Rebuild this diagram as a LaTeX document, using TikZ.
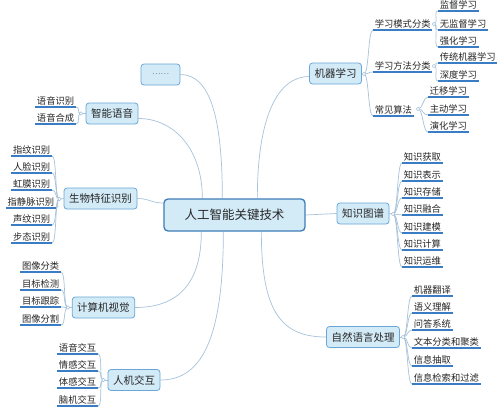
\documentclass[tikz,border=0pt]{standalone}
\usepackage{fontspec}
\setmainfont{Noto Sans CJK SC}
\usetikzlibrary{calc}
\pgfdeclarelayer{bg}
\pgfsetlayers{bg,main}
\definecolor{boxf}{HTML}{D3EBF7}
\definecolor{boxd}{HTML}{6AA6D6}
\definecolor{cend}{HTML}{3F7DB8}
\definecolor{connc}{HTML}{A7C3DB}
\definecolor{ulc}{HTML}{3B7DC4}
\definecolor{txt}{HTML}{262626}
\begin{document}
\begin{tikzpicture}[x=1pt,y=-1pt,
 topic/.style={draw=boxd, fill=boxf, rounded corners=3pt, line width=0.8pt, text=txt, font=\fontsize{10.5}{12}\selectfont, inner xsep=5pt, inner ysep=0pt, minimum height=21pt},
 central/.style={topic, draw=cend, line width=1.3pt, font=\fontsize{12.5}{14}\selectfont, minimum width=141pt, minimum height=32pt, rounded corners=4pt},
 uline/.style={draw=ulc, line width=1.6pt},
 leaf/.style={text=txt, font=\fontsize{9.3}{10}\selectfont, inner xsep=1.6pt, inner ysep=1.5pt, append after command={(\tikzlastnode.south west) edge[uline] (\tikzlastnode.south east)}},
 conn/.style={draw=connc, line width=0.7pt},
 knob/.style={circle, draw=connc, fill=white, line width=0.6pt, inner sep=0pt, minimum size=3.6pt},
]
\useasboundingbox (0,0) rectangle (499,410);
% central
\node[central] (c) at (234.5,215) {人工智能关键技术};
% etc
\node[topic, minimum width=39pt, text=gray, font=\fontsize{8}{9}\selectfont] (etc) at (160.5,74.5) {……};
% 机器学习
\node[topic] (ml) at (335.5,73.5) {机器学习};
\node[knob] (mlk) at (364,74) {};
\node[leaf, anchor=south west] (m1) at (373,30) {学习模式分类};
\node[leaf, anchor=south west] (m2) at (373,72) {学习方法分类};
\node[leaf, anchor=south west] (m3) at (373,116) {常见算法};
\node[knob] (m1k) at (434,24) {};
\node[knob] (m2k) at (434,66) {};
\node[knob] (m3k) at (418,109) {};
\node[leaf, anchor=south west] (m11) at (438,11) {监督学习};
\node[leaf, anchor=south west] (m12) at (438,30) {无监督学习};
\node[leaf, anchor=south west] (m13) at (438,47) {强化学习};
\node[leaf, anchor=south west] (m21) at (438,63) {传统机器学习};
\node[leaf, anchor=south west] (m22) at (438,81) {深度学习};
\node[leaf, anchor=south west] (m31) at (428,97) {迁移学习};
\node[leaf, anchor=south west] (m32) at (428,115) {主动学习};
\node[leaf, anchor=south west] (m33) at (428,132) {演化学习};
% 知识图谱
\node[topic] (kg) at (363,213.5) {知识图谱};
\node[knob] (kgk) at (393,214) {};
\node[leaf, anchor=south west] (k1) at (402,163) {知识获取};
\node[leaf, anchor=south west] (k2) at (402,181) {知识表示};
\node[leaf, anchor=south west] (k3) at (402,198) {知识存储};
\node[leaf, anchor=south west] (k4) at (402,215) {知识融合};
\node[leaf, anchor=south west] (k5) at (402,233) {知识建模};
\node[leaf, anchor=south west] (k6) at (402,250) {知识计算};
\node[leaf, anchor=south west] (k7) at (402,267) {知识运维};
% 自然语言处理
\node[topic] (nlp) at (363,337) {自然语言处理};
\node[knob] (nlpk) at (403,337) {};
\node[leaf, anchor=south west] (n1) at (412,296) {机器翻译};
\node[leaf, anchor=south west] (n2) at (412,313) {语义理解};
\node[leaf, anchor=south west] (n3) at (412,330) {问答系统};
\node[leaf, anchor=south west] (n4) at (412,348) {文本分类和聚类};
\node[leaf, anchor=south west] (n5) at (412,366) {信息抽取};
\node[leaf, anchor=south west] (n6) at (412,384) {信息检索和过滤};
% 智能语音
\node[topic] (zn) at (112,113.5) {智能语音};
\node[knob] (znk) at (81,113.5) {};
\node[leaf, anchor=south east] (z1) at (76,107) {语音识别};
\node[leaf, anchor=south east] (z2) at (76,124) {语音合成};
% 生物特征识别
\node[topic] (bio) at (100.5,198.5) {生物特征识别};
\node[knob] (biok) at (59.5,199) {};
\node[leaf, anchor=south east] (b1) at (52,156) {指纹识别};
\node[leaf, anchor=south east] (b2) at (52,173) {人脸识别};
\node[leaf, anchor=south east] (b3) at (52,190) {虹膜识别};
\node[leaf, anchor=south east] (b4) at (56,208) {指静脉识别};
\node[leaf, anchor=south east] (b5) at (52,225) {声纹识别};
\node[leaf, anchor=south east] (b6) at (52,243) {步态识别};
% 计算机视觉
\node[topic] (cv) at (103.5,307.5) {计算机视觉};
\node[knob] (cvk) at (68,307.5) {};
\node[leaf, anchor=south east] (v1) at (61,272) {图像分类};
\node[leaf, anchor=south east] (v2) at (61,290) {目标检测};
\node[leaf, anchor=south east] (v3) at (61,307) {目标跟踪};
\node[leaf, anchor=south east] (v4) at (61,325) {图像分割};
% 人机交互
\node[topic] (hci) at (134,380) {人机交互};
\node[knob] (hcik) at (103.5,380) {};
\node[leaf, anchor=south east] (h1) at (98,354) {语音交互};
\node[leaf, anchor=south east] (h2) at (98,371) {情感交互};
\node[leaf, anchor=south east] (h3) at (98,388) {体感交互};
\node[leaf, anchor=south east] (h4) at (98,406) {脑机交互};

\begin{pgfonlayer}{bg}
\fill[white] (0,0) rectangle (499,410);
% main connectors
\draw[conn] ($(c.north west)+(59,0)$) .. controls +(0,-80) and +(30,0) .. (etc.east);
\draw[conn] ($(c.north west)+(39,0)$) .. controls +(0,-50) and +(35,0) .. ($(zn.east)+(0,5)$);
\draw[conn] ($(c.west)+(0,-12)$) .. controls +(-12,0) and +(12,0) .. (bio.east);
\draw[conn] ($(c.south west)+(38,0)$) .. controls +(0,55) and +(40,0) .. (cv.east);
\draw[conn] ($(c.south west)+(60,0)$) .. controls +(0,110) and +(40,0) .. (hci.east);
\draw[conn] ($(c.north west)+(94,0)$) .. controls +(0,-85) and +(-30,0) .. ($(ml.west)+(0,3)$);
\draw[conn] (c.east) -- (kg.west);
\draw[conn] ($(c.south west)+(98,0)$) .. controls +(0,80) and +(-45,0) .. (nlp.west);
% topic to knob
\draw[conn] (ml.east) -- (mlk.center);
\draw[conn] (kg.east) -- (kgk.center);
\draw[conn] (nlp.east) -- (nlpk.center);
\draw[conn] (zn.west) -- (znk.center);
\draw[conn] (bio.west) -- (biok.center);
\draw[conn] (cv.west) -- (cvk.center);
\draw[conn] (hci.west) -- (hcik.center);
% right-side branches
\foreach \k/\t in {mlk/m1,mlk/m2,mlk/m3,m1k/m11,m1k/m12,m1k/m13,m2k/m21,m2k/m22,m3k/m31,m3k/m32,m3k/m33,kgk/k1,kgk/k2,kgk/k3,kgk/k4,kgk/k5,kgk/k6,kgk/k7,nlpk/n1,nlpk/n2,nlpk/n3,nlpk/n4,nlpk/n5,nlpk/n6}
  \draw[conn] (\k.center) .. controls +(5,0) and +(-5,0) .. (\t.south west);
% left-side branches
\foreach \k/\t in {znk/z1,znk/z2,biok/b1,biok/b2,biok/b3,biok/b4,biok/b5,biok/b6,cvk/v1,cvk/v2,cvk/v3,cvk/v4,hcik/h1,hcik/h2,hcik/h3,hcik/h4}
  \draw[conn] (\k.center) .. controls +(-5,0) and +(5,0) .. (\t.south east);
\end{pgfonlayer}
\end{tikzpicture}
\end{document}
